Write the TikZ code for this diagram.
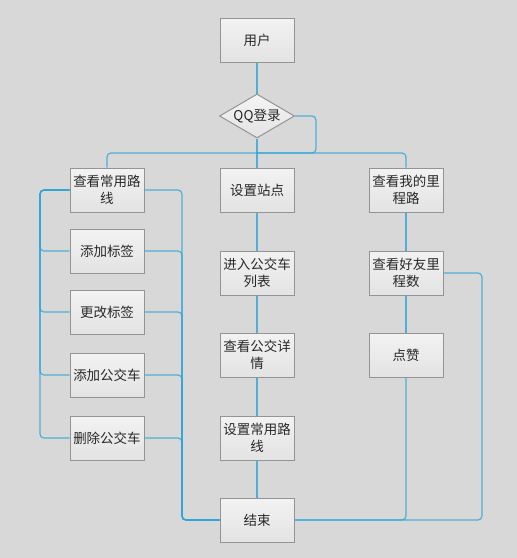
\documentclass[tikz,border=0pt]{standalone}
\usepackage{fontspec}
\setmainfont{Noto Sans CJK SC}
\usetikzlibrary{shapes.geometric,shadings}
\definecolor{bg}{RGB}{216,216,216}
\definecolor{lineblue}{RGB}{45,165,215}
\definecolor{boxline}{RGB}{148,148,148}
\definecolor{txt}{RGB}{40,40,40}
\tikzset{
  box/.style={rectangle, draw=boxline, line width=1pt, top color=white!95!black, bottom color=white!89!black,
    minimum width=74pt, minimum height=44pt, inner sep=0pt, text width=74pt, align=center,
    font=\fontsize{13.5}{17}\selectfont, text=txt},
  dia/.style={diamond, draw=boxline, line width=1pt, top color=white!96!black, bottom color=white!89!black,
    minimum width=75pt, minimum height=44pt, inner sep=0pt, aspect=1.7,
    font=\fontsize{13.5}{17}\selectfont, text=txt},
  conn/.style={draw=lineblue, line width=1.2pt, opacity=0.8, rounded corners=4pt}
}
\begin{document}
\begin{tikzpicture}[x=1pt,y=-1pt]
\fill[bg] (0,0) rectangle (517,558);
\useasboundingbox (0,0) rectangle (517,558);
\coordinate (bj) at (257,153);
\coordinate (qe) at (316,116);
\coordinate (lt) at (40,190);
\coordinate (rt) at (182,520);
\coordinate (fr) at (482,520);
% nodes (placement)
\node[box] (user) at (257,40) {用户};
\node[dia, draw=none, top color=bg, bottom color=bg] (qq0) at (257,116) {};
\node[box] (zd) at (257,190) {设置站点};
\node[box] (list) at (257,273) {进入公交车\\列表};
\node[box] (detail) at (257,355) {查看公交详\\情};
\node[box] (setr) at (257,438) {设置常用路\\线};
\node[box] (end) at (257,520) {结束};
\node[box] (b1) at (107,190) {查看常用路\\线};
\node[box] (b2) at (107,251) {添加标签};
\node[box] (b3) at (107,312) {更改标签};
\node[box] (b4) at (107,375) {添加公交车};
\node[box] (b5) at (107,438) {删除公交车};
\node[box] (r1) at (406,190) {查看我的里\\程路};
\node[box] (r2) at (406,273) {查看好友里\\程数};
\node[box] (r3) at (406,355) {点赞};
% connectors
\path[conn] (user.south) -- (qq0.north);
\path[conn] (qq0.south) -- (zd.north);
\path[conn] (bj) -| (b1.north);
\path[conn] (bj) -| (r1.north);
\path[conn] (qq0.east) -- (qe) |- (bj);
\path[conn] (b1.west) -| (b2.west -| lt) -- (b2.west);
\path[conn] (b1.west) -| (b3.west -| lt) -- (b3.west);
\path[conn] (b1.west) -| (b4.west -| lt) -- (b4.west);
\path[conn] (b1.west) -| (b5.west -| lt) -- (b5.west);
\path[conn] (b1.east) -| (rt) -- (end.west);
\path[conn] (b2.east) -| (rt) -- (end.west);
\path[conn] (b3.east) -| (rt) -- (end.west);
\path[conn] (b4.east) -| (rt) -- (end.west);
\path[conn] (b5.east) -| (rt) -- (end.west);
\path[conn] (zd.south) -- (list.north);
\path[conn] (list.south) -- (detail.north);
\path[conn] (detail.south) -- (setr.north);
\path[conn] (setr.south) -- (end.north);
\path[conn] (r1.south) -- (r2.north);
\path[conn] (r2.south) -- (r3.north);
\path[conn] (r3.south) |- (end.east);
\path[conn] (r2.east) -| (fr) -- (end.east);
% shapes drawn over the connectors
\node[box] at (user) {用户};
\node[dia] (qq) at (qq0) {QQ登录};
\node[box] at (zd) {设置站点};
\node[box] at (list) {进入公交车\\列表};
\node[box] at (detail) {查看公交详\\情};
\node[box] at (setr) {设置常用路\\线};
\node[box] at (end) {结束};
\node[box] at (b1) {查看常用路\\线};
\node[box] at (b2) {添加标签};
\node[box] at (b3) {更改标签};
\node[box] at (b4) {添加公交车};
\node[box] at (b5) {删除公交车};
\node[box] at (r1) {查看我的里\\程路};
\node[box] at (r2) {查看好友里\\程数};
\node[box] at (r3) {点赞};
\end{tikzpicture}
\end{document}
